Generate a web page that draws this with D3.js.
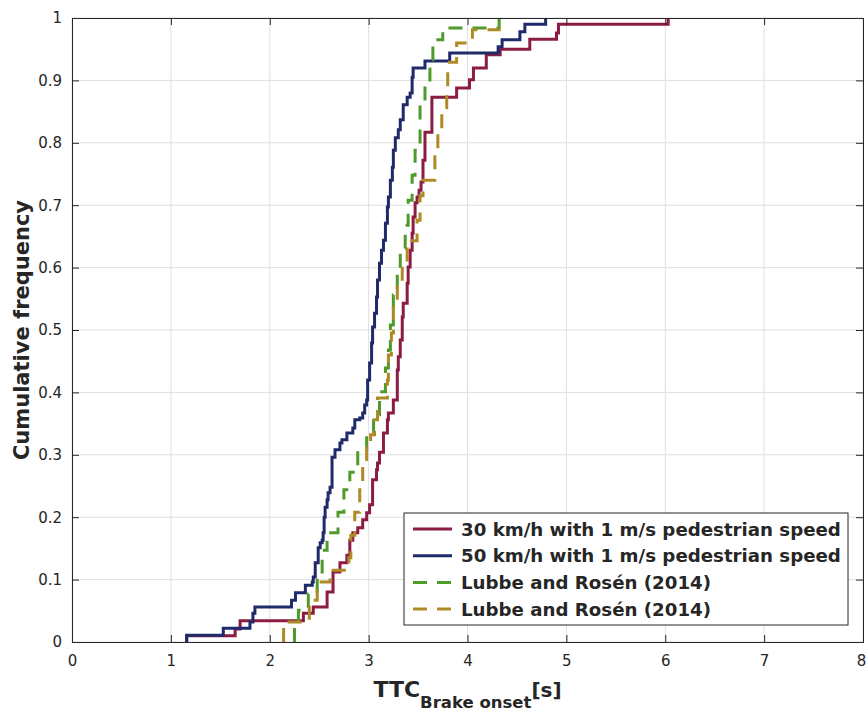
<!DOCTYPE html>
<html>
<head>
<meta charset="utf-8">
<script src="https://cdn.jsdelivr.net/npm/d3@7/dist/d3.min.js"></script>
<style>
  html, body { margin: 0; padding: 0; background: #fff; }
  svg { display: block; font-family: "DejaVu Sans", "Liberation Sans", Arial, sans-serif; }
</style>
</head>
<body>
<svg id="chart" width="866" height="710"></svg>
<script>
// Empirical cumulative distributions of TTC at brake onset.
// Each series lists the TTC values (s) where the curve steps up and the level it steps to.
const red30X = [1.16, 1.65, 1.70, 2.34, 2.44, 2.58, 2.64, 2.71, 2.78, 2.81, 2.84, 2.89, 2.94, 2.98,
  3.01, 3.04, 3.08, 3.09, 3.11, 3.15, 3.19, 3.20, 3.25, 3.29, 3.30, 3.32, 3.34, 3.35, 3.39, 3.40,
  3.42, 3.44, 3.45, 3.47, 3.49, 3.51, 3.53, 3.55, 3.57, 3.64, 3.89, 4.02, 4.06, 4.19, 4.33, 4.63,
  4.90, 4.92, 6.03];
const red30Y = [0.010, 0.021, 0.034, 0.046, 0.056, 0.080, 0.112, 0.127, 0.139, 0.163, 0.175, 0.183, 0.196, 0.207,
  0.220, 0.260, 0.276, 0.287, 0.304, 0.335, 0.356, 0.367, 0.388, 0.436, 0.457, 0.484, 0.521, 0.543, 0.575, 0.601,
  0.628, 0.655, 0.681, 0.704, 0.713, 0.724, 0.737, 0.772, 0.817, 0.873, 0.888, 0.901, 0.920, 0.941, 0.950, 0.966,
  0.976, 0.990, 1.0];

const blue50X = [1.16, 1.53, 1.80, 1.83, 1.85, 2.22, 2.26, 2.36, 2.43, 2.44, 2.46, 2.49, 2.51, 2.53, 2.54,
  2.55, 2.56, 2.58, 2.59, 2.61, 2.63, 2.66, 2.71, 2.73, 2.78, 2.84, 2.86, 2.91, 2.94, 2.96, 2.98, 2.99,
  3.01, 3.03, 3.04, 3.06, 3.08, 3.09, 3.11, 3.13, 3.15, 3.17, 3.19, 3.20, 3.22, 3.24, 3.25, 3.27, 3.30,
  3.32, 3.35, 3.39, 3.42, 3.44, 3.45, 3.57, 3.82, 4.31, 4.35, 4.53, 4.58, 4.79];
const blue50Y = [0.011, 0.022, 0.032, 0.046, 0.056, 0.067, 0.079, 0.091, 0.096, 0.104, 0.127, 0.151, 0.159, 0.163, 0.175,
  0.200, 0.216, 0.228, 0.239, 0.248, 0.296, 0.308, 0.319, 0.324, 0.335, 0.343, 0.356, 0.359, 0.367, 0.380, 0.388, 0.420,
  0.447, 0.479, 0.505, 0.527, 0.553, 0.580, 0.607, 0.628, 0.644, 0.671, 0.697, 0.713, 0.740, 0.761, 0.788, 0.808, 0.821,
  0.837, 0.861, 0.873, 0.880, 0.905, 0.920, 0.931, 0.944, 0.954, 0.965, 0.978, 0.990, 1.0];

const lubbeGreenX = [2.25, 2.29, 2.39, 2.48, 2.53, 2.58, 2.69, 2.75, 2.81, 2.89, 2.98, 3.05, 3.11, 3.17, 3.20,
  3.22, 3.25, 3.29, 3.32, 3.37, 3.40, 3.44, 3.47, 3.52, 3.57, 3.62, 3.65, 3.75, 4.32];
const lubbeGreenY = [0.026, 0.051, 0.077, 0.112, 0.147, 0.175, 0.208, 0.244, 0.272, 0.308, 0.332, 0.364, 0.401, 0.439, 0.468,
  0.508, 0.556, 0.596, 0.631, 0.668, 0.708, 0.748, 0.788, 0.861, 0.896, 0.933, 0.965, 0.984, 1.0];

const lubbeGoldX = [2.14, 2.40, 2.48, 2.61, 2.80, 2.82, 2.86, 2.91, 2.94, 2.98, 3.02, 3.06, 3.09, 3.19, 3.20,
  3.23, 3.25, 3.29, 3.34, 3.39, 3.49, 3.52, 3.55, 3.67, 3.70, 3.74, 3.79, 3.80, 3.89, 4.05, 4.32];
const lubbeGoldY = [0.032, 0.067, 0.096, 0.115, 0.135, 0.171, 0.208, 0.244, 0.284, 0.312, 0.332, 0.356, 0.391, 0.420, 0.460,
  0.495, 0.540, 0.574, 0.609, 0.643, 0.676, 0.715, 0.740, 0.784, 0.816, 0.856, 0.885, 0.929, 0.960, 0.981, 1.0];

const seriesNames = [
  "30 km/h with 1 m/s pedestrian speed",
  "50 km/h with 1 m/s pedestrian speed",
  "Lubbe and Rosén (2014)",
  "Lubbe and Rosén (2014)"
];

const xTicks = [0, 1, 2, 3, 4, 5, 6, 7, 8];
const yTicks = [0, 0.1, 0.2, 0.3, 0.4, 0.5, 0.6, 0.7, 0.8, 0.9, 1];

// ---- layout ----
const svg = d3.select("#chart");
const plot = { left: 72, right: 863, top: 18, bottom: 642 };
const axisColor = "#262626";
const gridColor = "#dfdfdf";
const fontFamily = "'DejaVu Sans', 'Liberation Sans', Arial, sans-serif";

const x = d3.scaleLinear().domain([0, 8]).range([plot.left, plot.right]);
const y = d3.scaleLinear().domain([0, 1]).range([plot.bottom, plot.top]);

const series = [
  { xs: red30X, ys: red30Y, color: "#8c1c42", dash: null },
  { xs: blue50X, ys: blue50Y, color: "#1f2a6b", dash: null },
  { xs: lubbeGreenX, ys: lubbeGreenY, color: "#4f9a2a", dash: "14,10" },
  { xs: lubbeGoldX, ys: lubbeGoldY, color: "#ae8a24", dash: "14,10" }
].map((s, i) => Object.assign(s, { name: seriesNames[i] }));

// ---- grid ----
const grid = svg.append("g").attr("class", "grid");
grid.selectAll("line.gx").data(xTicks).join("line")
  .attr("class", "gx")
  .attr("x1", d => x(d)).attr("x2", d => x(d))
  .attr("y1", plot.top).attr("y2", plot.bottom)
  .attr("stroke", gridColor).attr("stroke-width", 1);
grid.selectAll("line.gy").data(yTicks).join("line")
  .attr("class", "gy")
  .attr("x1", plot.left).attr("x2", plot.right)
  .attr("y1", d => y(d)).attr("y2", d => y(d))
  .attr("stroke", gridColor).attr("stroke-width", 1);

// ---- step curves ----
const stepLine = d3.line()
  .x(d => x(d[0]))
  .y(d => y(d[1]))
  .curve(d3.curveStepAfter);

const curves = svg.append("g").attr("class", "curves");
series.forEach(s => {
  const pts = [[s.xs[0], 0]].concat(s.xs.map((v, i) => [v, s.ys[i]]));
  curves.append("path")
    .datum(pts)
    .attr("d", stepLine)
    .attr("fill", "none")
    .attr("stroke", s.color)
    .attr("stroke-width", 3)
    .attr("stroke-dasharray", s.dash)
    .attr("stroke-linejoin", "miter");
});

// ---- axes (ticks pointing inward, box all round) ----
const fmtY = d3.format("");
const styleAxis = g => {
  g.select(".domain").attr("stroke", axisColor).attr("stroke-width", 1).attr("fill", "none");
  g.selectAll(".tick line").attr("stroke", axisColor).attr("stroke-width", 1);
  g.selectAll(".tick text").attr("fill", axisColor)
    .attr("font-size", 15)
    .attr("font-family", fontFamily);
};

const bottomAxis = svg.append("g")
  .attr("transform", `translate(0,${plot.bottom})`)
  .call(d3.axisBottom(x).tickValues(xTicks).tickSize(-7).tickPadding(13).tickFormat(d3.format("d")))
  .call(styleAxis);
// keep the last label inside the canvas edge
bottomAxis.selectAll(".tick text").filter(d => d === xTicks[xTicks.length - 1]).attr("dx", -2);

svg.append("g")
  .attr("transform", `translate(0,${plot.top})`)
  .call(d3.axisTop(x).tickValues(xTicks).tickSize(-7).tickFormat(""))
  .call(styleAxis);

svg.append("g")
  .attr("transform", `translate(${plot.left},0)`)
  .call(d3.axisLeft(y).tickValues(yTicks).tickSize(-7).tickPadding(10).tickFormat(fmtY))
  .call(styleAxis);

svg.append("g")
  .attr("transform", `translate(${plot.right},0)`)
  .call(d3.axisRight(y).tickValues(yTicks).tickSize(-7).tickFormat(""))
  .call(styleAxis);

// ---- axis titles ----
svg.append("text")
  .attr("transform", `translate(29,${(plot.top + plot.bottom) / 2}) rotate(-90)`)
  .attr("text-anchor", "middle")
  .attr("font-weight", "bold")
  .attr("font-size", 21)
  .attr("font-family", fontFamily)
  .attr("fill", axisColor)
  .text("Cumulative frequency");

const xTitle = svg.append("text")
  .attr("x", (plot.left + plot.right) / 2)
  .attr("y", 697)
  .attr("text-anchor", "middle")
  .attr("font-weight", "bold")
  .attr("font-family", fontFamily)
  .attr("fill", axisColor);
xTitle.append("tspan").attr("font-size", 22).text("TTC");
xTitle.append("tspan").attr("font-size", 16.5).attr("dy", 10.5).text("Brake onset");
xTitle.append("tspan").attr("font-size", 20).attr("dy", -10.5).text("[s]");

// ---- legend ----
const legend = svg.append("g").attr("class", "legend");
const lg = { x: 404, y: 513, w: 444, h: 112, row0: 529, rowStep: 26.7 };
legend.append("rect")
  .attr("x", lg.x).attr("y", lg.y).attr("width", lg.w).attr("height", lg.h)
  .attr("fill", "#fff").attr("stroke", axisColor).attr("stroke-width", 1);

const rows = legend.selectAll("g.row").data(series).join("g")
  .attr("class", "row")
  .attr("transform", (d, i) => `translate(0,${lg.row0 + i * lg.rowStep})`);
rows.append("line")
  .attr("x1", 413).attr("x2", 452).attr("y1", 0).attr("y2", 0)
  .attr("stroke", d => d.color).attr("stroke-width", 3)
  .attr("stroke-dasharray", d => d.dash);
rows.append("text")
  .attr("x", 461).attr("y", 0).attr("dy", "0.36em")
  .attr("font-size", 18.2).attr("font-weight", "bold")
  .attr("font-family", fontFamily)
  .attr("fill", axisColor)
  .text(d => d.name);
</script>
</body>
</html>
